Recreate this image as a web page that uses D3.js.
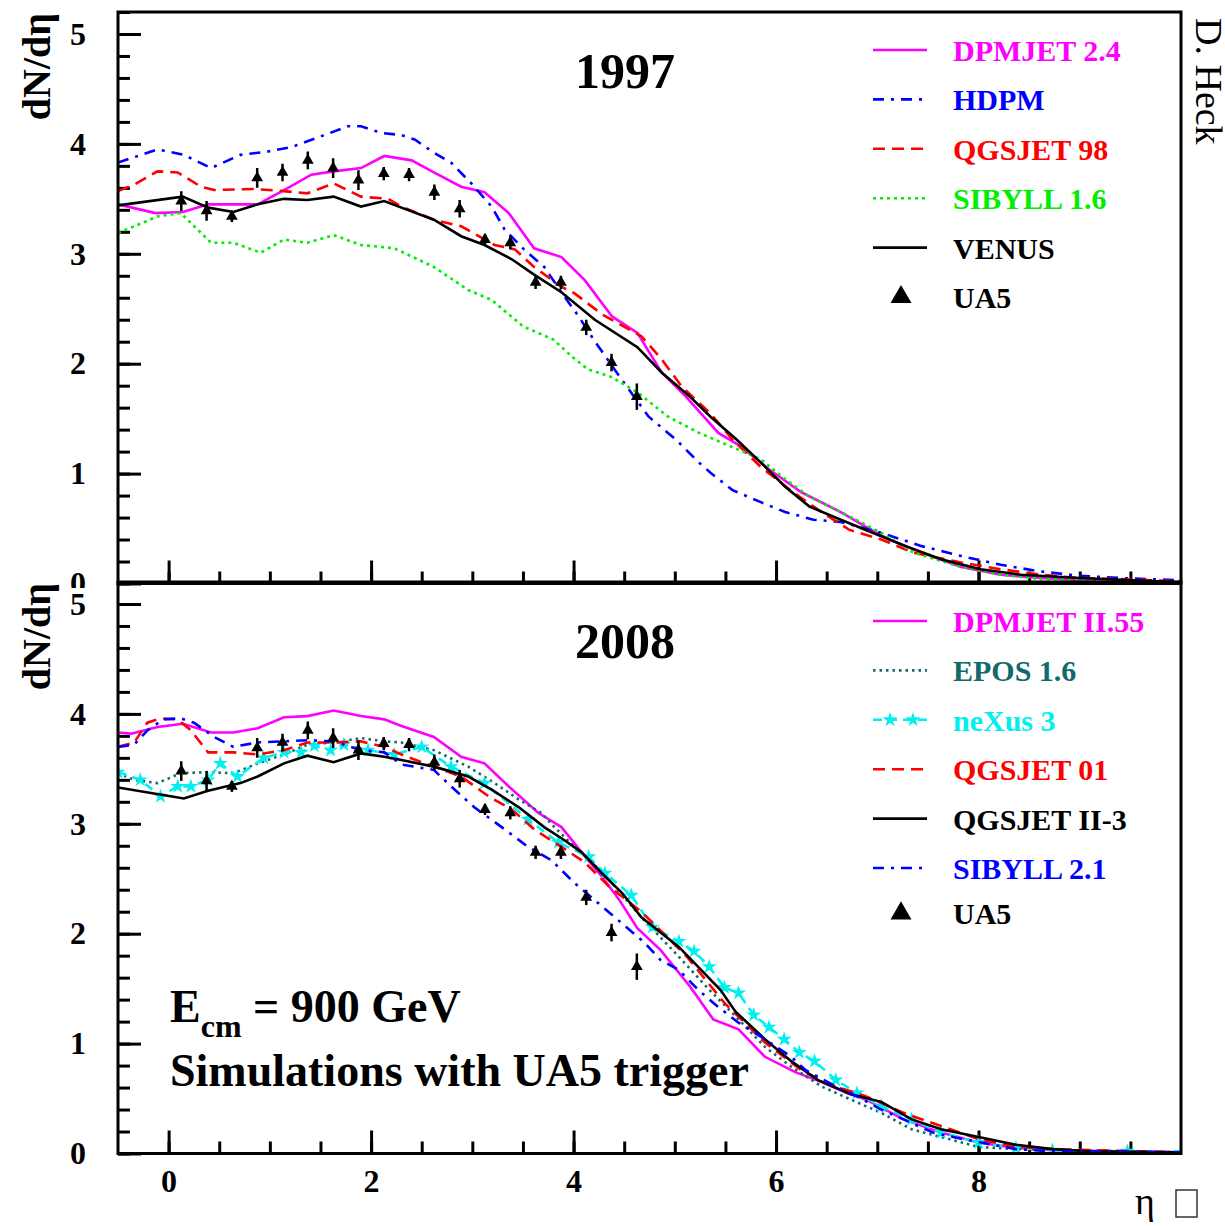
<!DOCTYPE html>
<html>
<head>
<meta charset="utf-8">
<script src="https://cdn.jsdelivr.net/npm/d3@7"></script>
<style>
  body { margin: 0; background: #fff; }
  text { font-family: "Liberation Serif", "Times New Roman", serif; }
</style>
</head>
<body>
<div id="chart"></div>
<script>
// ---- 1997 panel (eta, dN/deta) ----
var dpmjet24 = [[-0.5,3.45],[-0.13,3.37],[0.14,3.38],[0.39,3.45],[0.64,3.45],[0.88,3.45],[1.14,3.58],[1.41,3.72],[1.63,3.75],[1.90,3.78],[2.13,3.89],[2.40,3.85],[2.62,3.74],[2.89,3.61],[3.12,3.56],[3.36,3.37],[3.61,3.05],[3.88,2.97],[4.11,2.76],[4.38,2.43],[4.63,2.28],[4.87,1.92],[5.11,1.70],[5.43,1.37],[5.65,1.25],[5.93,1.04],[6.25,0.83],[6.64,0.65],[6.88,0.52],[7.12,0.40],[7.44,0.28],[7.83,0.15],[8.22,0.08],[8.61,0.05],[9.2,0.02],[10,0.01]];
var hdpm = [[-0.5,3.83],[-0.11,3.95],[0.15,3.90],[0.42,3.78],[0.71,3.90],[0.98,3.93],[1.21,3.97],[1.48,4.06],[1.77,4.16],[1.90,4.16],[2.10,4.10],[2.30,4.08],[2.43,4.04],[2.62,3.92],[2.79,3.83],[2.99,3.64],[3.19,3.43],[3.32,3.22],[3.51,3.04],[3.71,2.88],[3.88,2.65],[4.05,2.43],[4.22,2.19],[4.48,1.85],[4.74,1.52],[5.01,1.31],[5.24,1.10],[5.35,1.01],[5.57,0.85],[5.85,0.74],[6.09,0.65],[6.37,0.58],[6.64,0.56],[7.04,0.46],[7.44,0.34],[7.83,0.25],[8.22,0.17],[8.61,0.11],[9.0,0.07],[9.4,0.05],[10,0.03]];
var qgsjet98 = [[-0.5,3.57],[-0.34,3.63],[-0.11,3.75],[0.09,3.74],[0.32,3.61],[0.45,3.58],[0.84,3.59],[1.14,3.57],[1.37,3.55],[1.63,3.64],[1.90,3.52],[2.17,3.50],[2.30,3.43],[2.62,3.31],[2.89,3.25],[3.22,3.08],[3.42,3.04],[3.61,2.88],[3.88,2.70],[4.01,2.64],[4.28,2.45],[4.67,2.25],[4.87,2.04],[5.07,1.79],[5.35,1.55],[5.57,1.31],[5.85,1.06],[6.17,0.83],[6.45,0.65],[6.72,0.49],[7.04,0.40],[7.36,0.28],[7.83,0.19],[8.22,0.13],[8.61,0.08],[9.0,0.05],[9.4,0.04],[10,0.02]];
var sibyll16 = [[-0.5,3.19],[-0.34,3.25],[-0.11,3.34],[0.12,3.37],[0.32,3.19],[0.42,3.10],[0.64,3.10],[0.91,3.01],[1.14,3.13],[1.37,3.10],[1.63,3.17],[1.90,3.08],[2.23,3.05],[2.62,2.88],[2.96,2.67],[3.19,2.58],[3.50,2.34],[3.80,2.22],[3.99,2.06],[4.14,1.95],[4.37,1.88],[4.63,1.74],[4.93,1.52],[5.24,1.37],[5.47,1.28],[5.85,1.13],[6.09,0.95],[6.33,0.79],[6.64,0.65],[7.04,0.46],[7.36,0.28],[7.83,0.15],[8.22,0.08],[8.61,0.04],[10,0.01]];
var venus = [[-0.5,3.44],[0.14,3.52],[0.39,3.42],[0.64,3.38],[0.88,3.45],[1.14,3.50],[1.37,3.49],[1.63,3.52],[1.90,3.43],[2.13,3.48],[2.30,3.42],[2.62,3.31],[2.89,3.16],[3.12,3.08],[3.39,2.95],[3.61,2.81],[3.88,2.65],[4.21,2.40],[4.63,2.15],[4.87,1.92],[5.15,1.70],[5.35,1.52],[5.61,1.31],[5.85,1.10],[6.09,0.88],[6.33,0.70],[6.64,0.58],[6.96,0.46],[7.28,0.34],[7.63,0.22],[8.02,0.13],[8.42,0.08],[9.0,0.05],[10,0.01]];

// ---- 2008 panel ----
var dpmjet255 = [[-0.5,3.83],[-0.37,3.82],[-0.11,3.88],[0.14,3.91],[0.42,3.83],[0.64,3.83],[0.88,3.87],[1.14,3.97],[1.37,3.98],[1.63,4.03],[1.90,3.98],[2.13,3.95],[2.30,3.89],[2.62,3.79],[2.89,3.61],[3.12,3.55],[3.36,3.34],[3.65,3.10],[3.88,2.97],[4.08,2.74],[4.28,2.52],[4.45,2.31],[4.63,2.05],[4.86,1.85],[5.15,1.52],[5.38,1.22],[5.63,1.13],[5.89,0.88],[6.19,0.74],[6.45,0.65],[6.70,0.55],[6.89,0.49],[7.26,0.31],[7.63,0.19],[8.0,0.10],[8.37,0.05],[8.73,0.03],[10,0.01]];
var epos16 = [[-0.5,3.46],[-0.34,3.40],[-0.11,3.37],[0.12,3.46],[0.39,3.47],[0.64,3.46],[0.88,3.55],[1.14,3.63],[1.37,3.72],[1.63,3.74],[1.90,3.78],[2.13,3.75],[2.30,3.74],[2.62,3.67],[2.96,3.52],[3.22,3.37],[3.46,3.22],[3.68,3.10],[3.81,2.97],[4.01,2.79],[4.18,2.65],[4.35,2.49],[4.67,2.15],[5.04,1.79],[5.34,1.49],[5.63,1.22],[5.89,0.97],[6.15,0.79],[6.45,0.61],[6.74,0.49],[7.04,0.37],[7.34,0.22],[7.63,0.15],[8.0,0.06],[8.37,0.04],[10,0.01]];
var nexus3 = [[-0.5,3.47],[-0.28,3.40],[-0.08,3.25],[0.09,3.34],[0.22,3.34],[0.39,3.40],[0.51,3.55],[0.68,3.43],[0.94,3.60],[1.14,3.65],[1.31,3.65],[1.44,3.71],[1.60,3.67],[1.73,3.72],[1.97,3.67],[2.23,3.63],[2.50,3.70],[2.79,3.52],[3.12,3.37],[3.55,3.04],[3.85,2.83],[4.15,2.70],[4.31,2.55],[4.57,2.35],[4.78,2.06],[5.04,1.93],[5.19,1.84],[5.34,1.70],[5.49,1.51],[5.63,1.46],[5.78,1.26],[5.93,1.15],[6.08,1.04],[6.23,0.92],[6.38,0.84],[6.59,0.67],[6.80,0.55],[7.04,0.43],[7.34,0.31],[7.63,0.19],[8.0,0.10],[8.37,0.05],[8.73,0.03],[9.47,0.02],[10,0.01]];
var qgsjet01 = [[-0.5,3.70],[-0.34,3.74],[-0.21,3.92],[-0.08,3.96],[0.09,3.95],[0.22,3.85],[0.39,3.65],[0.64,3.65],[0.88,3.63],[1.14,3.67],[1.37,3.74],[1.63,3.74],[1.90,3.75],[2.13,3.70],[2.30,3.63],[2.62,3.52],[2.89,3.43],[3.16,3.25],[3.39,3.13],[3.61,2.95],[3.88,2.79],[4.11,2.65],[4.35,2.43],[4.67,2.20],[5.12,1.79],[5.49,1.37],[5.89,1.01],[6.26,0.75],[6.59,0.61],[6.89,0.52],[7.26,0.37],[7.63,0.25],[8.0,0.13],[8.37,0.06],[8.73,0.04],[10,0.01]];
var qgsjetII3 = [[-0.5,3.33],[0.15,3.23],[0.39,3.30],[0.71,3.37],[0.88,3.43],[1.14,3.55],[1.37,3.62],[1.63,3.56],[1.90,3.64],[2.13,3.61],[2.30,3.58],[2.62,3.52],[2.96,3.43],[3.19,3.31],[3.46,3.15],[3.71,2.97],[3.91,2.85],[4.08,2.74],[4.28,2.55],[4.48,2.37],[4.67,2.15],[5.04,1.88],[5.45,1.49],[5.60,1.29],[5.89,1.04],[6.15,0.84],[6.41,0.67],[6.74,0.54],[7.04,0.47],[7.34,0.31],[7.63,0.22],[8.0,0.15],[8.37,0.08],[8.73,0.04],[9.1,0.02],[10,0.01]];
var sibyll21 = [[-0.5,3.70],[-0.34,3.72],[-0.21,3.85],[-0.05,3.95],[0.12,3.96],[0.25,3.92],[0.45,3.79],[0.64,3.70],[0.88,3.74],[1.14,3.75],[1.37,3.76],[1.63,3.75],[1.90,3.67],[2.13,3.65],[2.30,3.54],[2.62,3.49],[2.79,3.34],[3.02,3.15],[3.29,2.97],[3.55,2.79],[3.78,2.67],[4.01,2.46],[4.28,2.25],[4.52,2.06],[4.70,1.92],[4.86,1.76],[5.04,1.67],[5.23,1.49],[5.42,1.34],[5.63,1.19],[5.89,1.04],[6.15,0.88],[6.29,0.76],[6.59,0.61],[6.80,0.52],[7.04,0.40],[7.26,0.31],[7.55,0.19],[7.85,0.13],[8.37,0.04],[8.73,0.02],[10,0.01]];

// UA5 data, same in both panels
var ua5Eta = [0.125,0.375,0.625,0.875,1.125,1.375,1.625,1.875,2.125,2.375,2.625,2.875,3.125,3.375,3.625,3.875,4.125,4.375,4.625];
var ua5Val = [3.48,3.39,3.34,3.69,3.74,3.85,3.78,3.67,3.73,3.72,3.56,3.41,3.13,3.10,2.74,2.74,2.33,2.01,1.70];
var ua5Err = [0.09,0.09,0.05,0.09,0.08,0.08,0.09,0.09,0.06,0.06,0.07,0.08,0.05,0.06,0.06,0.06,0.07,0.08,0.12];

var xMajor = [0, 2, 4, 6, 8];
var yMajor = [0, 1, 2, 3, 4, 5];

var MAGENTA = '#ff00ff', BLUE = '#0000ff', RED = '#ff0000', GREEN = '#00ee00',
    BLACK = '#000000', TEAL = '#136a6a', CYAN = '#00f0f0';

var styles = {
  solid: null,
  dash: '12,7',
  dashdot: '11,7,3,7',
  dot: '3,4',
  fine: '2.5,4',
  nexus: '9,6'
};

var panels = [
  {id: 'top', top: 12, bottom: 583.5, title: '1997', legendY: 50,
   series: [
     {name: 'DPMJET 2.4', data: dpmjet24, color: MAGENTA, dash: 'solid'},
     {name: 'HDPM', data: hdpm, color: BLUE, dash: 'dashdot'},
     {name: 'QGSJET 98', data: qgsjet98, color: RED, dash: 'dash'},
     {name: 'SIBYLL 1.6', data: sibyll16, color: GREEN, dash: 'dot'},
     {name: 'VENUS', data: venus, color: BLACK, dash: 'solid'}
   ]},
  {id: 'bot', top: 582, bottom: 1153.5, title: '2008', legendY: 621,
   series: [
     {name: 'DPMJET II.55', data: dpmjet255, color: MAGENTA, dash: 'solid'},
     {name: 'EPOS 1.6', data: epos16, color: TEAL, dash: 'fine'},
     {name: 'neXus 3', data: nexus3, color: CYAN, dash: 'nexus', star: true},
     {name: 'QGSJET 01', data: qgsjet01, color: RED, dash: 'dash'},
     {name: 'QGSJET II-3', data: qgsjetII3, color: BLACK, dash: 'solid'},
     {name: 'SIBYLL 2.1', data: sibyll21, color: BLUE, dash: 'dashdot'}
   ]}
];

var W = 1225, H = 1226;
var svg = d3.select('#chart').append('svg')
  .attr('width', W).attr('height', H)
  .style('background', '#fff');

var x = d3.scaleLinear().domain([-0.5, 10]).range([118, 1181]);
var star = d3.symbol().type(d3.symbolStar).size(70);
var tri = d3.symbol().type(d3.symbolTriangle);

function styleLine(sel, s) {
  sel.attr('fill', 'none')
     .attr('stroke', s.color)
     .attr('stroke-width', 2.6)
     .attr('stroke-dasharray', styles[s.dash]);
}

function drawPanel(p, idx) {
  var y = d3.scaleLinear().domain([0, 5.2]).range([p.bottom, p.top]);
  var g = svg.append('g');

  if (idx > 0) {
    // lower pad covers whatever spills from the upper one
    g.append('rect').attr('x', 0).attr('y', 588).attr('width', W).attr('height', H - 588)
      .attr('fill', '#fff');
  }

  var clipId = 'clip-' + p.id;
  g.append('clipPath').attr('id', clipId).append('rect')
    .attr('x', x(-0.5)).attr('y', p.top)
    .attr('width', x(10) - x(-0.5)).attr('height', p.bottom - p.top);

  // axes: minor then major ticks, pointing into the frame
  var yMinor = g.append('g').attr('transform', 'translate(' + x(-0.5) + ',0)')
    .call(d3.axisLeft(y).tickValues(d3.range(0, 5.21, 0.2)).tickSize(-12).tickSizeOuter(0).tickFormat(''));
  var yMaj = g.append('g').attr('transform', 'translate(' + x(-0.5) + ',0)')
    .call(d3.axisLeft(y).tickValues(yMajor).tickSize(-23).tickSizeOuter(0).tickPadding(32).tickFormat(d3.format('d')));
  var xMinor = g.append('g').attr('transform', 'translate(0,' + p.bottom + ')')
    .call(d3.axisBottom(x).tickValues(d3.range(0, 9.6, 0.5)).tickSize(-12).tickSizeOuter(0).tickFormat(''));
  var xMaj = g.append('g').attr('transform', 'translate(0,' + p.bottom + ')')
    .call(d3.axisBottom(x).tickValues(xMajor).tickSize(-23).tickSizeOuter(0).tickPadding(16)
      .tickFormat(idx === 1 ? d3.format('d') : ''));

  [yMinor, yMaj, xMinor, xMaj].forEach(function(a) {
    a.select('.domain').remove();
    a.selectAll('line').attr('stroke', '#000').attr('stroke-width', 3);
    a.selectAll('text').attr('font-size', 32).attr('font-weight', 'bold')
      .attr('font-family', '"Liberation Serif", "Times New Roman", serif').attr('fill', '#000');
  });

  // curves
  var line = d3.line().x(function(d) { return x(d[0]); }).y(function(d) { return y(d[1]); });
  var plot = g.append('g').attr('clip-path', 'url(#' + clipId + ')');
  p.series.forEach(function(s) {
    plot.append('path').datum(s.data).attr('d', line).call(styleLine, s);
    if (s.star) {
      plot.selectAll(null).data(s.data).enter().append('path')
        .attr('d', star)
        .attr('transform', function(d) { return 'translate(' + x(d[0]) + ',' + y(d[1]) + ')'; })
        .attr('fill', s.color);
    }
  });

  // UA5 points with error bars
  var pts = plot.selectAll('.ua5').data(ua5Eta).enter().append('g').attr('class', 'ua5');
  pts.append('line')
    .attr('x1', function(d) { return x(d); }).attr('x2', function(d) { return x(d); })
    .attr('y1', function(d, i) { return y(ua5Val[i] - ua5Err[i]); })
    .attr('y2', function(d, i) { return y(ua5Val[i] + ua5Err[i]); })
    .attr('stroke', '#000').attr('stroke-width', 2.5);
  pts.append('path')
    .attr('d', tri.size(60))
    .attr('transform', function(d, i) { return 'translate(' + x(d) + ',' + y(ua5Val[i]) + ')'; })
    .attr('fill', '#000');

  // frame
  g.append('rect').attr('x', x(-0.5)).attr('y', p.top)
    .attr('width', x(10) - x(-0.5)).attr('height', p.bottom - p.top)
    .attr('fill', 'none').attr('stroke', '#000').attr('stroke-width', 3);

  // title
  g.append('text').attr('x', 625).attr('y', p.top + 76)
    .attr('text-anchor', 'middle').attr('font-size', 50).attr('font-weight', 'bold')
    .text(p.title);

  // y label
  g.append('text')
    .attr('transform', 'translate(50,' + (p.top + 1) + ') rotate(-90)')
    .attr('text-anchor', 'end').attr('font-size', 40).attr('font-weight', 'bold')
    .text('dN/dη');

  // legend
  var step = 49.4;
  var leg = g.append('g');
  p.series.forEach(function(s, i) {
    var ly = p.legendY + i * step;
    leg.append('line').attr('x1', 873).attr('x2', 927).attr('y1', ly).attr('y2', ly).call(styleLine, s);
    if (s.star) {
      [890, 913].forEach(function(sx) {
        leg.append('path').attr('d', star).attr('transform', 'translate(' + sx + ',' + ly + ')')
          .attr('fill', s.color);
      });
    }
    leg.append('text').attr('x', 953).attr('y', ly + 11)
      .attr('font-size', 30).attr('font-weight', 'bold').attr('fill', s.color)
      .text(s.name);
  });
  var ly = p.legendY + p.series.length * step - (idx === 1 ? 4 : 0);
  leg.append('path').attr('d', tri.size(190))
    .attr('transform', 'translate(901,' + ly + ')').attr('fill', '#000');
  leg.append('text').attr('x', 953).attr('y', ly + 11)
    .attr('font-size', 30).attr('font-weight', 'bold').attr('fill', '#000')
    .text('UA5');
}

panels.forEach(drawPanel);

// annotation in lower panel
var ann = svg.append('text').attr('x', 170).attr('y', 1022)
  .attr('font-size', 46).attr('font-weight', 'bold');
ann.append('tspan').text('E');
ann.append('tspan').attr('font-size', 32).attr('dy', 15).text('cm');
ann.append('tspan').attr('dy', -15).text(' = 900 GeV');
svg.append('text').attr('x', 170).attr('y', 1086)
  .attr('font-size', 46).attr('font-weight', 'bold')
  .text('Simulations with UA5 trigger');

// x label
svg.append('text').attr('x', 1145).attr('y', 1214).attr('text-anchor', 'middle')
  .attr('font-size', 38).text('η');
svg.append('rect').attr('x', 1176).attr('y', 1190).attr('width', 21).attr('height', 27)
  .attr('fill', 'none').attr('stroke', '#333').attr('stroke-width', 1.5);

// author tag
svg.append('text')
  .attr('transform', 'translate(1196,18) rotate(90)')
  .attr('font-size', 38).text('D. Heck');
</script>
</body>
</html>
